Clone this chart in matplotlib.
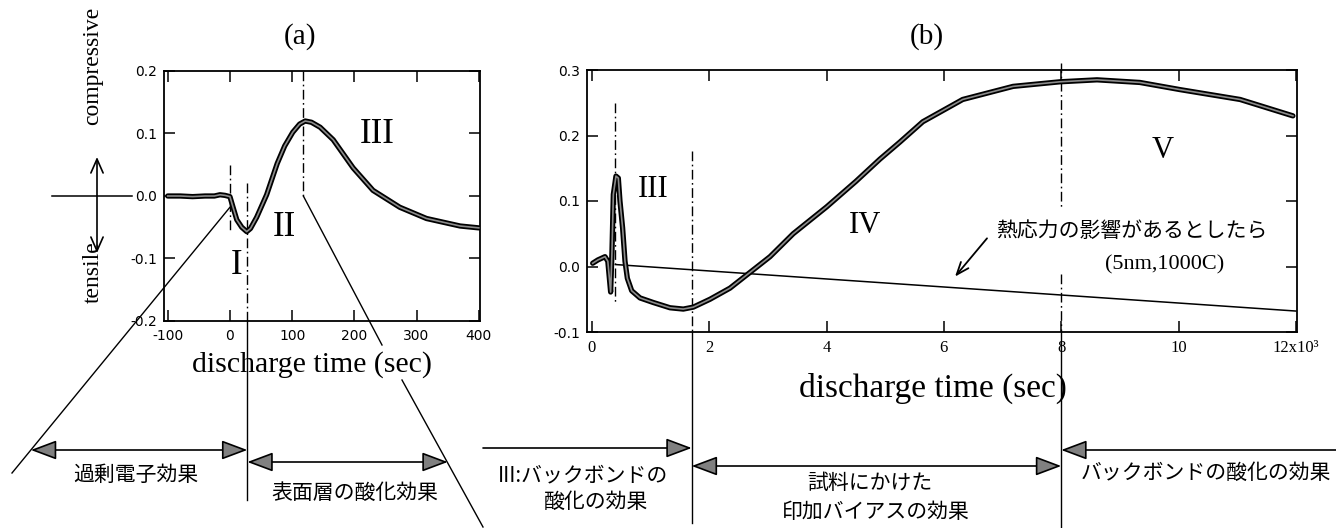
import matplotlib
matplotlib.use("Agg")
import matplotlib.pyplot as plt
from matplotlib.patches import FancyArrowPatch

W, H = 1336, 528
SERIF = ["Liberation Serif", "DejaVu Serif"]
SANS = ["DejaVu Sans"]
JP = ["Noto Sans CJK JP", "DejaVu Sans"]

# ---- (a) short-time stress response -------------------------------------
a_time = [-100, -80, -60, -40, -25, -16, -8, 0, 5, 11, 19, 27, 33, 43, 59, 76,
          88, 101, 112, 121, 131, 145, 166, 198, 230, 273, 316, 370, 400]
a_stress = [0.0, 0.0, -0.001, 0.0, 0.0, 0.002, 0.001, -0.001, -0.018, -0.038,
            -0.050, -0.057, -0.052, -0.034, 0.002, 0.052, 0.080, 0.102, 0.115,
            0.120, 0.118, 0.110, 0.090, 0.045, 0.009, -0.018, -0.036, -0.048, -0.051]
a_xticks = [-100, 0, 100, 200, 300, 400]
a_yticks = [-0.2, -0.1, 0.0, 0.1, 0.2]
a_yticklabels = ["-0.2", "-0.1", "0.0", "0.1", "0.2"]
a_bounds = [0, 28, 118]          # region boundaries (sec)
a_regions = ["I", "II", "III"]

# ---- (b) long-time stress response --------------------------------------
b_time = [12, 100, 222, 270, 318, 340, 364, 409, 449, 477, 522, 563, 603, 677,
          819, 1046, 1330, 1557, 1728, 2012, 2353, 2694, 3035, 3430, 4000, 4500,
          4910, 5250, 5640, 6320, 7180, 7980, 8610, 9340, 10030, 11050, 11950]
b_stress = [0.005, 0.010, 0.015, 0.008, -0.039, 0.020, 0.110, 0.138, 0.135,
            0.100, 0.059, 0.008, -0.018, -0.037, -0.048, -0.055, -0.063, -0.065,
            -0.062, -0.050, -0.033, -0.009, 0.015, 0.050, 0.091, 0.130, 0.164,
            0.190, 0.221, 0.255, 0.275, 0.282, 0.285, 0.281, 0.270, 0.255, 0.230]
thermal_time = [400, 12000]
thermal_stress = [0.003, -0.068]
b_xticks = [0, 2000, 4000, 6000, 8000, 10000, 12000]
b_xticklabels = ["0", "2", "4", "6", "8", "10", "12x10\u00b3"]
b_yticks = [-0.1, 0.0, 0.1, 0.2, 0.3]
b_yticklabels = ["-0.1", "0.0", "0.1", "0.2", "0.3"]
b_bounds = [400, 1700, 8000]
b_regions = ["III", "IV", "V"]

xlabel = "discharge time (sec)"
thermal_note = "熱応力の影響があるとしたら"
thermal_cond = "(5nm,1000C)"
effects_a = ["過剰電子効果", "表面層の酸化効果"]
effects_b = ["III:バックボンドの", "酸化の効果", "試料にかけた", "印加バイアスの効果",
             "バックボンドの酸化の効果"]

fig = plt.figure(figsize=(W / 100, H / 100), dpi=100)
fig.patch.set_facecolor("white")

ax_a = fig.add_axes([164 / W, 1 - 321 / H, 316 / W, 250 / H])
ax_b = fig.add_axes([587 / W, 1 - 332 / H, 710 / W, 262 / H])
ov = fig.add_axes([0, 0, 1, 1], zorder=5)
ov.set_xlim(0, W)
ov.set_ylim(H, 0)
ov.axis("off")
ov.patch.set_alpha(0)

DASHDOT = (0, (7, 2.5, 1.2, 2.5))


def style_axes(ax, xfamily, xsize):
    for s in ax.spines.values():
        s.set_linewidth(1.3)
    ax.tick_params(direction="in", length=8, width=1.1, top=True, right=True)
    ax.tick_params(axis="y", labelsize=10, pad=5)
    ax.tick_params(axis="x", labelsize=xsize, pad=6)
    for lab in ax.get_yticklabels():
        lab.set_fontfamily(SANS)
    for lab in ax.get_xticklabels():
        lab.set_fontfamily(xfamily)


def draw_curve(ax, x, y):
    ax.plot(x, y, color="black", lw=3.8, solid_joinstyle="round",
            solid_capstyle="round", zorder=3)
    ax.plot(x, y, color="0.55", lw=1.2, solid_joinstyle="round", zorder=4)


# panel (a)
draw_curve(ax_a, a_time, a_stress)
ax_a.set_xlim(-106, 402)
ax_a.set_ylim(-0.2, 0.2)
ax_a.set_xticks(a_xticks)
ax_a.set_xticklabels([str(v) for v in a_xticks])
ax_a.set_yticks(a_yticks)
ax_a.set_yticklabels(a_yticklabels)
style_axes(ax_a, SANS, 10)
ax_a.plot([a_bounds[0]] * 2, [0.05, -0.055], color="black", lw=1, ls=DASHDOT)
ax_a.plot([a_bounds[1]] * 2, [0.02, -0.2], color="black", lw=1, ls=DASHDOT)
ax_a.plot([a_bounds[2]] * 2, [0.2, 0.0], color="black", lw=1, ls=DASHDOT)
for name, (tx, ty) in zip(a_regions, [(10, -0.112), (88, -0.05), (236, 0.098)]):
    ax_a.text(tx, ty, name, family=SERIF, fontsize=25, ha="center", va="center")

# panel (b)
draw_curve(ax_b, b_time, b_stress)
ax_b.plot(thermal_time, thermal_stress, color="black", lw=1.1, zorder=2)
ax_b.set_xlim(-85, 12020)
ax_b.set_ylim(-0.1, 0.3)
ax_b.set_xticks(b_xticks)
ax_b.set_xticklabels(b_xticklabels)
ax_b.set_yticks(b_yticks)
ax_b.set_yticklabels(b_yticklabels)
style_axes(ax_b, SERIF, 12)
ax_b.plot([b_bounds[0]] * 2, [0.25, -0.055], color="black", lw=1, ls=DASHDOT)
ax_b.plot([b_bounds[1]] * 2, [0.177, -0.1], color="black", lw=1, ls=DASHDOT)
ax_b.plot([b_bounds[2]] * 2, [0.31, 0.09], color="black", lw=1, ls=DASHDOT,
          clip_on=False)
ax_b.plot([b_bounds[2]] * 2, [-0.012, -0.1], color="black", lw=1, ls=DASHDOT)
for name, (tx, ty) in zip(b_regions, [(1040, 0.118), (4650, 0.063), (9730, 0.177)]):
    ax_b.text(tx, ty, name, family=SERIF, fontsize=22, ha="center", va="center")
ax_b.annotate("", xy=(6190, -0.0154), xytext=(6735, 0.043),
              arrowprops=dict(arrowstyle="->,head_length=0.9,head_width=0.35",
                              lw=1.3, color="black", shrinkA=0, shrinkB=0))
ax_b.text(9207, 0.054, thermal_note, family=JP, fontsize=15, ha="center",
          va="center")
ax_b.text(9770, 0.003, thermal_cond, family=SERIF, fontsize=16, ha="center",
          va="center")


def px(ax, x, y):
    return ov.transData.inverted().transform(ax.transData.transform((x, y)))


def arrow(p0, p1, style):
    ov.add_patch(FancyArrowPatch(p0, p1, arrowstyle=style, mutation_scale=20,
                                 lw=1.2, ec="black", fc="0.5",
                                 shrinkA=0, shrinkB=0))


# panel titles and axis labels
ov.text(300, 37, "(a)", family=SERIF, fontsize=21, ha="center", va="center")
ov.text(927, 37, "(b)", family=SERIF, fontsize=21, ha="center", va="center")
ov.text(312, 365, xlabel, family=SERIF, fontsize=21.5, ha="center", va="center")
ov.text(933, 388, xlabel, family=SERIF, fontsize=24, ha="center", va="center")

# compressive / tensile guide on the left of (a)
zero_y = px(ax_a, 0, 0.0)[1]
ov.plot([52, 132], [zero_y, zero_y], color="black", lw=1.1)
ov.add_patch(FancyArrowPatch((97, 157), (97, 253),
                             arrowstyle="<->,head_length=0.5,head_width=0.22",
                             mutation_scale=20, lw=1.2, color="black",
                             shrinkA=0, shrinkB=0))
ov.text(93, 66, "compressive", family=SERIF, fontsize=17, rotation=90,
        ha="center", va="center")
ov.text(93, 272, "tensile", family=SERIF, fontsize=17, rotation=90,
        ha="center", va="center")

HEAD2 = "<|-|>,head_length=0.8,head_width=0.3"
HEADR = "-|>,head_length=0.8,head_width=0.3"

# zoom lines from (a) down to the effect arrows
x0a, y0a = px(ax_a, a_bounds[0], -0.018)
ov.plot([x0a, 12], [y0a, 473], color="black", lw=1.0)
x2a, y2a = px(ax_a, a_bounds[2], 0.0)
ov.plot([x2a, 382], [y2a, 345], color="black", lw=1.0)
ov.plot([402, 483], [380, 527], color="black", lw=1.0)

# boundary lines running below the axes
xb1 = px(ax_a, a_bounds[1], 0)[0]
ov.plot([xb1, xb1], [321, 500], color="black", lw=1.0)
xb_mid = px(ax_b, b_bounds[1], 0)[0]
xb_end = px(ax_b, b_bounds[2], 0)[0]
ov.plot([xb_mid, xb_mid], [332, 523], color="black", lw=1.0)
ov.plot([xb_end, xb_end], [332, 527], color="black", lw=1.0)


def diag_x(p0, p1, y):
    return p0[0] + (y - p0[1]) * (p1[0] - p0[0]) / (p1[1] - p0[1])


arrow((diag_x((x0a, y0a), (12, 473), 450), 450), (xb1, 450), HEAD2)
arrow((xb1, 462), (diag_x((x2a, y2a), (483, 527), 462), 462), HEAD2)
arrow((483, 448), (xb_mid, 448), HEADR)
arrow((xb_mid, 466), (xb_end, 466), HEAD2)
arrow((W, 450), (xb_end, 450), HEADR)

for text, (tx, ty) in zip(effects_a, [(136, 475), (355, 493)]):
    ov.text(tx, ty, text, family=JP, fontsize=15, ha="center", va="center")
for text, (tx, ty) in zip(effects_b, [(583, 475), (596, 502), (870, 483),
                                      (876, 512), (1206, 473)]):
    ov.text(tx, ty, text, family=JP, fontsize=15, ha="center", va="center")

fig.savefig("out.png", dpi=100, facecolor="white")
